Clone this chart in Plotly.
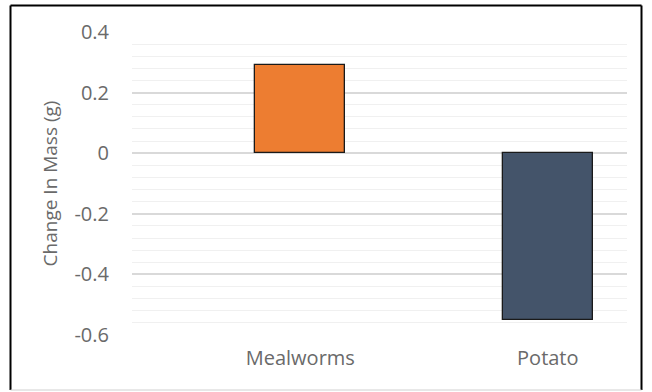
import plotly.graph_objects as go

categories = ["Mealworms", "Potato"]
values = [0.29, -0.55]
colors = ["#ED7D31", "#44546A"]
y_ticks = [0.4, 0.2, 0, -0.2, -0.4, -0.6]
y_tick_text = ["0.4", "0.2", "0", "-0.2", "-0.4", "-0.6"]

W, H = 652, 392
L, R, T, B = 132, 25, 32, 57
pw, ph = W - L - R, H - T - B

def px_x(x):
    return (x - L) / pw

def px_y(y):
    return (H - B - y) / ph

fig = go.Figure()
fig.add_trace(go.Bar(
    x=[0, 1],
    y=values,
    width=0.365,
    marker=dict(color=colors, line=dict(color="#1a1a1a", width=1.3)),
    showlegend=False,
))

fig.update_layout(
    width=W, height=H,
    margin=dict(l=L, r=R, t=T, b=B),
    paper_bgcolor="white",
    plot_bgcolor="white",
    font=dict(family="Open Sans, Liberation Sans, sans-serif", color="#595959", size=19),
    bargap=0,
    xaxis=dict(
        range=[-0.68, 1.32],
        tickmode="array",
        tickvals=[0, 1],
        ticktext=categories,
        showgrid=False,
        zeroline=False,
        showline=False,
        ticks="",
        ticklabelstandoff=9,
        tickfont=dict(size=20, color="#6a6a6a"),
    ),
    yaxis=dict(
        range=[-0.6, 0.4],
        tickmode="array",
        tickvals=y_ticks,
        ticktext=y_tick_text,
        showgrid=True,
        gridcolor="#d9d9d9",
        gridwidth=1.5,
        zeroline=False,
        showline=False,
        ticks="",
        ticklabelstandoff=22,
        tickfont=dict(size=20, color="#6a6a6a"),
        minor=dict(dtick=0.04, showgrid=True, gridcolor="#f0f0f0", gridwidth=1),
        title=dict(text="Change In Mass (g)", standoff=11,
                   font=dict(size=19, color="#6a6a6a")),
    ),
)

# outer chart border
x0, x1 = px_x(10.5), px_x(641.5)
y0, y1 = px_y(390), px_y(5.5)
for (a, b, c, d, col, wdt) in [
    (x0, y0, x0, y1, "#000000", 2),
    (x0, y1, x1, y1, "#000000", 2),
    (x1, y1, x1, y0, "#000000", 2),
    (x0, y0, x1, y0, "#d0d0d0", 1),
]:
    fig.add_shape(type="line", xref="paper", yref="paper",
                  x0=a, y0=b, x1=c, y1=d, line=dict(color=col, width=wdt))

fig.write_html("out.html")
